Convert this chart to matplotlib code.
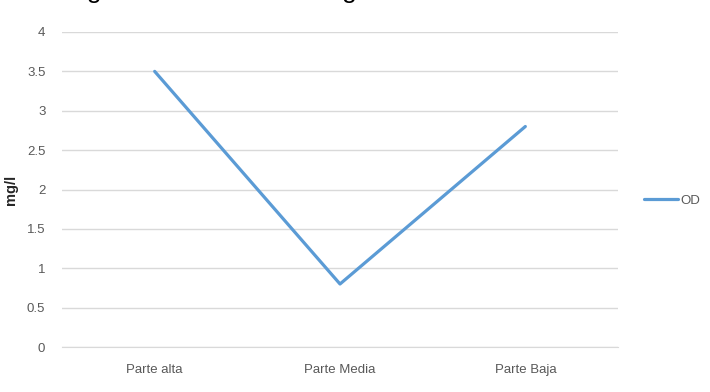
import matplotlib.pyplot as plt

plt.rcParams['font.family'] = ['Liberation Sans Narrow', 'Liberation Sans', 'DejaVu Sans']

categories = ['Parte alta', 'Parte Media', 'Parte Baja']
od_values = [3.5, 0.8, 2.8]
y_ticks = [0, 0.5, 1, 1.5, 2, 2.5, 3, 3.5, 4]
y_tick_labels = ['0', '0.5', '1', '1.5', '2', '2.5', '3', '3.5', '4']

fig = plt.figure(figsize=(7.1, 3.92), dpi=100)
ax = fig.add_axes([62 / 710, 1 - 347 / 392, 556 / 710, 315 / 392])

x = list(range(len(categories)))
ax.plot(x, od_values, color='#5B9BD5', linewidth=2.3, label='OD', solid_capstyle='round')

ax.set_xlim(-0.5, len(categories) - 0.5)
ax.set_ylim(0, 4)
ax.set_yticks(y_ticks)
ax.set_yticklabels(y_tick_labels)
ax.set_xticks(x)
ax.set_xticklabels(categories)

ax.grid(axis='y', color='#D9D9D9', linewidth=1)
ax.set_axisbelow(True)
for side in ['top', 'right', 'left']:
    ax.spines[side].set_visible(False)
ax.spines['bottom'].set_color('#D9D9D9')
ax.tick_params(axis='both', length=0, labelsize=9.5, colors='#595959')
ax.tick_params(axis='y', pad=12)
ax.tick_params(axis='x', pad=12)

ax.set_ylabel('mg/l', fontsize=10.5, fontweight='bold', color='#262626',
              family=['Liberation Sans', 'DejaVu Sans'])
ax.yaxis.set_label_coords(-0.079, 0.5)

ax.legend(loc='center left', bbox_to_anchor=(1.025, 0.465), frameon=False,
          fontsize=9.5, labelcolor='#595959', handlelength=2.6, handletextpad=0.2)

# title cut off at the top of the image
fig.text(0.092, 1.006, 'Figura 4. Niveles de oxígeno disuelto en el río',
         fontsize=19, family=['Liberation Sans', 'DejaVu Sans'], color='black',
         va='baseline', ha='left')

fig.savefig('out.png', dpi=100)
